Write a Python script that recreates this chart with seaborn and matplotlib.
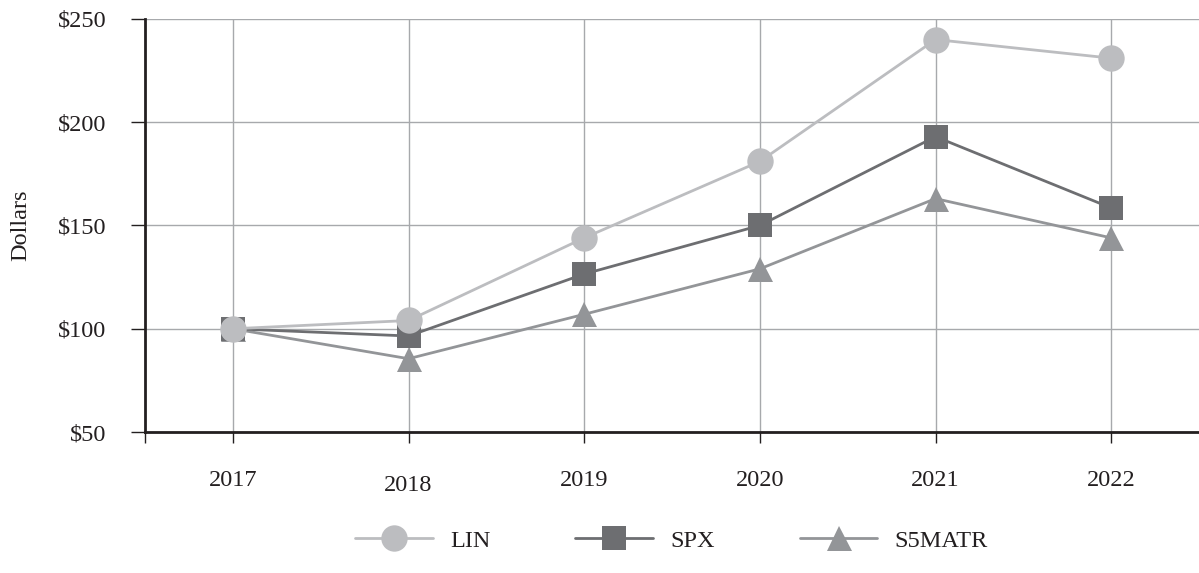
import pandas as pd
import matplotlib.pyplot as plt
import seaborn as sns

years = ["2017", "2018", "2019", "2020", "2021", "2022"]
lin = [100, 104, 144, 181, 240, 231]
spx = [100, 96.5, 126.5, 150, 193, 158.5]
s5matr = [100, 85.5, 107, 129, 163, 144]

series = {"LIN": lin, "SPX": spx, "S5MATR": s5matr}
records = []
for name, vals in series.items():
    for i, (yr, v) in enumerate(zip(years, vals)):
        records.append({"Series": name, "Year": yr, "pos": i, "Value": v})
df = pd.DataFrame(records)

sns.set_theme(style="white")
plt.rcParams['font.family'] = ['Liberation Serif', 'DejaVu Serif']

colors = {"LIN": "#bcbdc0", "SPX": "#6d6e71", "S5MATR": "#939598"}
markers = {"LIN": "o", "SPX": "s", "S5MATR": "^"}
msizes = {"LIN": 19, "SPX": 17, "S5MATR": 18}
zorders = {"LIN": 5, "SPX": 4, "S5MATR": 3}
FS = 17.5

fig = plt.figure(figsize=(11.99, 5.73), dpi=100)
ax = fig.add_axes([0.121, 0.246, 0.879, 0.721])

for name in ["S5MATR", "SPX", "LIN"]:
    sub = df[df["Series"] == name]
    sns.lineplot(data=sub, x="pos", y="Value", ax=ax, color=colors[name],
                 marker=markers[name], markersize=msizes[name], markeredgewidth=0,
                 linewidth=2, label=name, zorder=zorders[name])

ax.set_xlim(-0.5, 5.5)
ax.set_ylim(50, 250)
ax.set_xticks(range(len(years)))
ax.set_xticklabels(years)
ax.set_xticks([-0.5], minor=True)
ax.set_yticks([50, 100, 150, 200, 250])
ax.set_yticklabels([f"${v}" for v in [50, 100, 150, 200, 250]])
ax.grid(True, which="major", color="#a7a9ac", linewidth=1)
ax.set_axisbelow(True)

for s in ["top", "right"]:
    ax.spines[s].set_visible(False)
for s in ["left", "bottom"]:
    ax.spines[s].set_color("#231f20")
    ax.spines[s].set_linewidth(2)

ax.tick_params(axis="x", which="both", direction="out", length=8, width=1,
               color="#231f20", pad=19, labelsize=FS, labelcolor="#231f20", bottom=True)
ax.tick_params(axis="y", direction="out", length=10, width=1, color="#231f20",
               pad=18, labelsize=FS, labelcolor="#231f20", left=True)
ax.xaxis.get_major_ticks()[1].set_pad(23)

ax.set_xlabel("")
ax.set_ylabel("Dollars", fontsize=FS, color="#231f20", labelpad=19)

handles, labels = ax.get_legend_handles_labels()
order = [labels.index(n) for n in ["LIN", "SPX", "S5MATR"]]
ax.legend([handles[i] for i in order], [labels[i] for i in order],
          loc="center", bbox_to_anchor=(0.56, 0.056), bbox_transform=fig.transFigure,
          ncol=3, frameon=False, fontsize=FS, handlelength=3.2, handletextpad=0.7,
          columnspacing=3.5, labelcolor="#231f20")

fig.savefig("out.png", dpi=100)
